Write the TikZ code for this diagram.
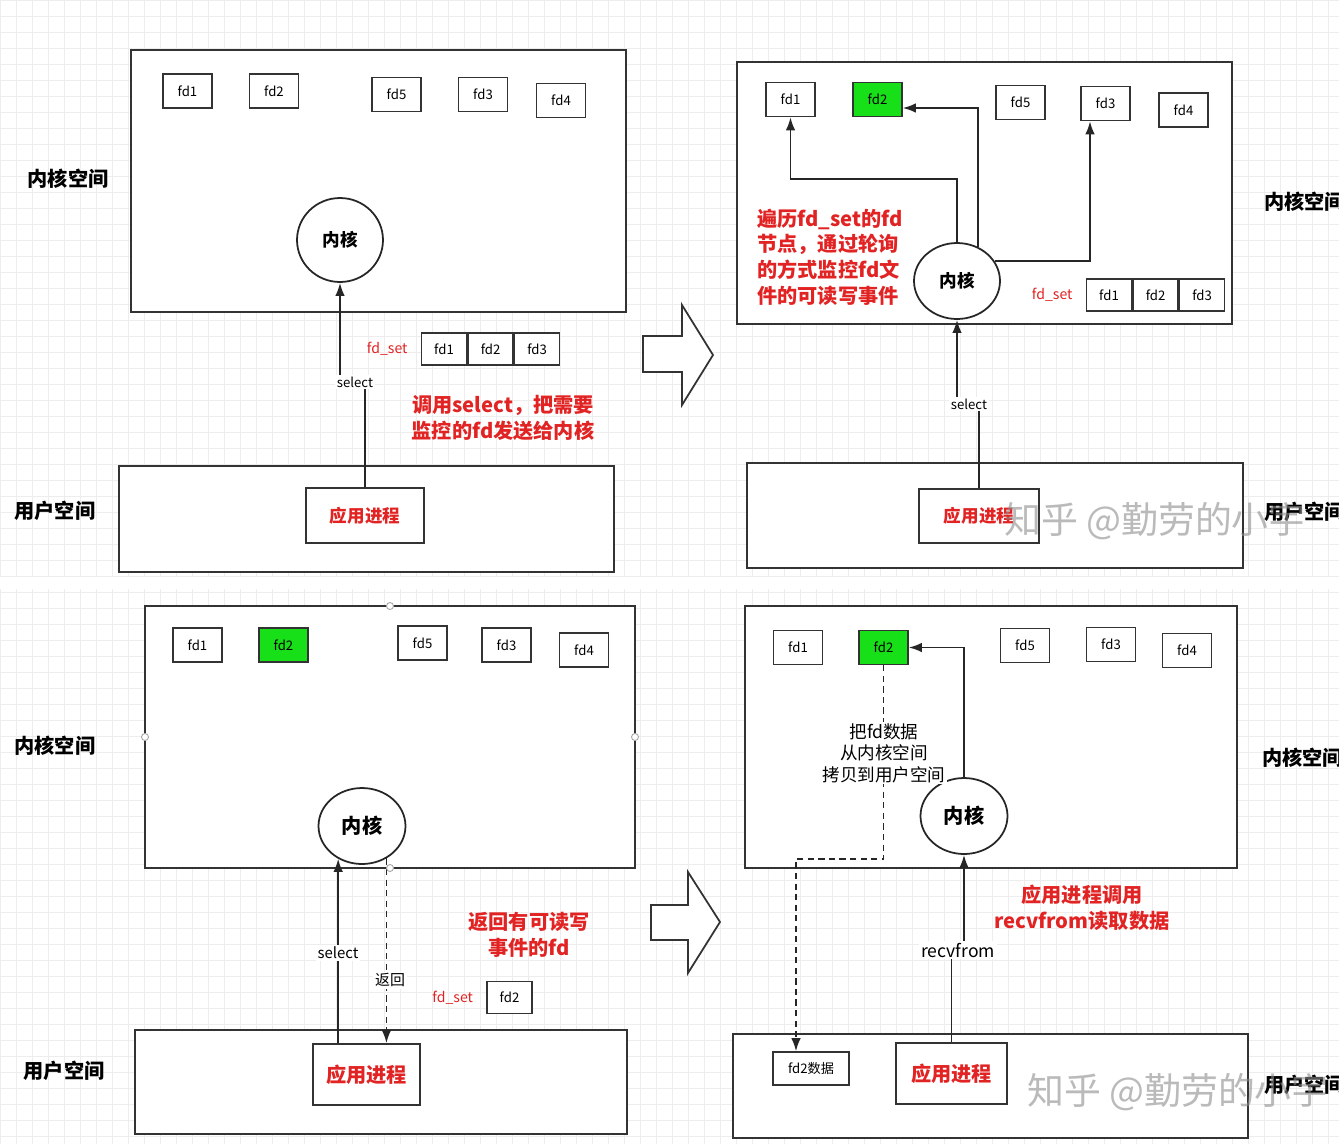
\documentclass[tikz,border=0pt]{standalone}
\usepackage{fontspec}
\setmainfont{Noto Sans CJK SC}
\usetikzlibrary{arrows.meta,shapes.geometric,positioning}

\definecolor{notered}{RGB}{226,35,35}
\definecolor{fdgreen}{RGB}{24,224,24}

\begin{document}
\begin{tikzpicture}[x=0.02cm, y=-0.02cm,
		gridline/.style={draw=black!7, line width=0.4pt},
		space/.style={draw=black!80, line width=1pt, fill=white},
		fdbox/.style={draw=black!80, line width=0.9pt, fill=white, inner sep=0pt,
			minimum width=0.98cm, minimum height=0.68cm, font=\fontsize{7.5}{9}\selectfont},
		hot/.style={fdbox, fill=fdgreen},
		setbox/.style={fdbox, minimum width=0.9cm, minimum height=0.64cm},
		core/.style={ellipse, draw=black!85, line width=1pt, fill=white, inner sep=0pt,
			minimum width=1.72cm, minimum height=1.52cm, font=\fontsize{10}{12}\selectfont\bfseries},
		app/.style={draw=black!80, line width=1pt, fill=white, inner sep=0pt, text=notered,
			font=\fontsize{10}{12}\selectfont\bfseries},
		note/.style={text=notered, align=center, font=\fontsize{11.5}{14.6}\selectfont\bfseries},
		setname/.style={text=notered, font=\fontsize{8}{10}\selectfont},
		call/.style={fill=white, inner sep=1pt, font=\fontsize{7.5}{9}\selectfont},
		area/.style={font=\fontsize{11.5}{14}\selectfont\bfseries},
		arr/.style={draw=black!85, line width=1pt, -{Latex[length=0.26cm,width=0.19cm]}},
		back/.style={arr, dash pattern=on 3.5pt off 2.5pt},
		hollow/.style={draw=black!80, line width=1pt, fill=white, line join=miter},
		handle/.style={draw=black!35, fill=white, line width=0.5pt},
	]
	\clip (0,0) rectangle (1339,1144);
	\fill[white] (0,0) rectangle (1339,1144);

	% background grid
	\foreach \gx in {0,16,...,1339}
		\draw[gridline] (\gx,0) -- (\gx,1144);
	\foreach \gy in {0,16,...,1144}
		\draw[gridline] (0,\gy) -- (1339,\gy);
	\fill[white] (0,577) rectangle (1339,589);

	% ---- step 1: select ----
	\draw[space] (131,50) rectangle (626,312);
	\draw[space] (119,466) rectangle (614,572);
	\node[area] (k1) at (68,179) {内核空间};
	\node[area] (u1) at (55,511) {用户空间};
	\foreach \n/\x/\y in {fd1/187.5/91, fd2/274/91, fd5/396.5/94.5, fd3/483/94.5, fd4/561/100.5}
		\node[fdbox] (a\n) at (\x,\y) {\n};
	\node[core, minimum height=1.68cm] (core1) at (340,240) {内核};
	\node[app, minimum width=2.36cm, minimum height=1.1cm] (app1) at (365,515.5) {应用进程};
	\node[call] (sel1) at (355,382) {select};
	\draw[arr, -] (app1.north) -- (app1.north |- sel1.south);
	\draw[arr] (core1.south |- sel1.north) -- (core1.south);
	\node[setbox] (as1) at (444,349) {fd1};
	\node[setbox, right=0pt of as1] (as2) {fd2};
	\node[setbox, right=0pt of as2] (as3) {fd3};
	\node[setname, left=4pt of as1] (aset) {fd\_set};
	\node[note] (anote) at (503,418) {调用select，把需要\\监控的fd发送给内核};

	\draw[hollow] (643,336) -- (682,336) -- (682,305) -- (713,355) -- (682,405) -- (682,372) -- (643,372) -- cycle;

	% ---- step 2: polling ----
	\draw[space] (737,62) rectangle (1232,324);
	\draw[space] (747,463) rectangle (1243,568);
	\node[area, anchor=west] (k2) at (1258,202) {内核空间};
	\node[area, anchor=west] (u2) at (1258,512) {用户空间};
	\foreach \n/\x/\y in {fd1/790.5/99.5, fd5/1020.5/102.5, fd3/1105.5/103.5, fd4/1183.5/110}
		\node[fdbox] (b\n) at (\x,\y) {\n};
	\node[hot] (bfd2) at (877.5,99.5) {fd2};
	\node[core] (core2) at (957,281) {内核};
	\node[app, minimum width=2.4cm, minimum height=1.08cm] (app2) at (979,516) {应用进程};
	\node[call] (sel2) at (969,404) {select};
	\draw[arr, -] (app2.north) -- (app2.north |- sel2.south);
	\draw[arr] (core2.south |- sel2.north) -- (core2.south);
	\draw[arr] (core2.north) -- ++(0,-63) -| (bfd1.south);
	\draw[arr] (core2.58) |- ([yshift=-0.17cm]bfd2.east);
	\draw[arr] (core2.28) -| ([xshift=-0.31cm]bfd3.south);
	\node[setbox] (bs1) at (1109,295) {fd1};
	\node[setbox, right=0pt of bs1] (bs2) {fd2};
	\node[setbox, right=0pt of bs2] (bs3) {fd3};
	\node[setname, left=4pt of bs1] (bset) {fd\_set};
	\node[note, align=left, anchor=west] (bnote) at (751,257) {遍历fd\_set的fd\\节点，通过轮询\\的方式监控fd文\\件的可读写事件};

	% ---- step 3: return ----
	\draw[space] (145,606) rectangle (635,868);
	\draw[space] (135,1030) rectangle (627,1134);
	\node[area] (k3) at (55,746) {内核空间};
	\node[area] (u3) at (64,1071) {用户空间};
	\foreach \n/\x/\y in {fd1/197.5/645, fd5/422.5/643, fd3/506.5/645, fd4/584/650}
		\node[fdbox] (c\n) at (\x,\y) {\n};
	\node[hot] (cfd2) at (283.5,645) {fd2};
	\node[core, minimum width=1.74cm, font=\fontsize{11.5}{13}\selectfont\bfseries] (core3) at (362,826) {内核};
	\node[app, minimum width=2.14cm, minimum height=1.22cm, font=\fontsize{11.5}{13}\selectfont\bfseries] (app3) at (366.5,1074.5) {应用进程};
	\draw[arr] (app3.north -| core3.234) -- (core3.234);
	\draw[back] (core3.307) -- (core3.307 |- app3.north);
	\node[call, font=\fontsize{8.5}{10}\selectfont] (sel3) at (338,953) {select};
	\node[call, font=\fontsize{8.5}{10}\selectfont] (ret3) at (390,980) {返回};
	\foreach \hx/\hy in {390/606, 145/737, 635/737, 390/868}
		\draw[handle] (\hx,\hy) circle (0.07cm);
	\node[setbox] (cs1) at (509.5,997.5) {fd2};
	\node[setname, left=4pt of cs1] (cset) {fd\_set};
	\node[note] (cnote) at (529,935) {返回有可读写\\事件的fd};

	\draw[hollow] (651,905) -- (688,905) -- (688,872) -- (720,922) -- (688,973) -- (688,940) -- (651,940) -- cycle;

	% ---- step 4: recvfrom ----
	\draw[space] (745,606) rectangle (1237,868);
	\draw[space] (733,1034) rectangle (1248,1138);
	\node[area, anchor=west] (k4) at (1256,758) {内核空间};
	\node[area, anchor=west] (u4) at (1258,1085) {用户空间};
	\foreach \n/\x/\y in {fd1/798/647.5, fd5/1025/645.5, fd3/1111/644.5, fd4/1187/650.5}
		\node[fdbox] (d\n) at (\x,\y) {\n};
	\node[hot] (dfd2) at (883.5,647.5) {fd2};
	\node[core, minimum width=1.74cm, font=\fontsize{11.5}{13}\selectfont\bfseries] (core4) at (964,816) {内核};
	\node[app, minimum width=2.22cm, minimum height=1.22cm, font=\fontsize{11.5}{13}\selectfont\bfseries] (app4) at (951.5,1073.5) {应用进程};
	\node[fdbox, minimum width=1.52cm, minimum height=0.66cm] (data4) at (811,1068.5) {fd2数据};
	\draw[arr] (core4.north) |- (dfd2.east);
	\draw[back] (dfd2.south) -- ++(0,194) -| ([xshift=-0.3cm]data4.north);
	\node[call, align=center, font=\fontsize{10}{12.2}\selectfont] (copy4) at (884,753) {把fd数据\\从内核空间\\拷贝到用户空间};
	\node[call, font=\fontsize{10}{12}\selectfont] (recv4) at (958,950) {recvfrom};
	\draw[arr, -] (app4.north) -- (app4.north |- recv4.south);
	\draw[arr] (core4.south |- recv4.north) -- (core4.south);
	\node[note] (dnote) at (1082,908) {应用进程调用\\recvfrom读取数据};

	% watermarks
	\node[text=black!45, opacity=0.6, font=\fontsize{21}{21}\selectfont] (mark1) at (1155,521) {知乎 @勤劳的小宇};
	\node[text=black!45, opacity=0.6, font=\fontsize{21}{21}\selectfont] (mark2) at (1178,1092) {知乎 @勤劳的小宇};
\end{tikzpicture}
\end{document}
